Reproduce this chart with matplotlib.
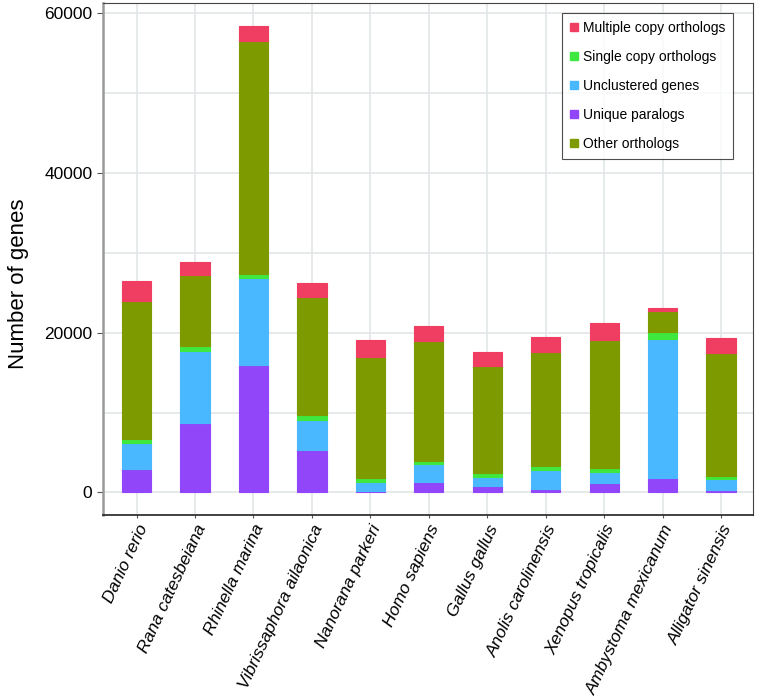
import numpy as np
import matplotlib
matplotlib.use("Agg")
import matplotlib.pyplot as plt
from matplotlib.patches import Patch
from matplotlib.ticker import MultipleLocator

plt.rcParams['font.family'] = ['Liberation Sans', 'DejaVu Sans']

# Espèces et valeurs des segments empilés (du bas vers le haut)
species = ["Danio rerio", "Rana catesbeiana", "Rhinella marina", "Vibrissaphora ailaonica",
           "Nanorana parkeri", "Homo sapiens", "Gallus gallus", "Anolis carolinensis",
           "Xenopus tropicalis", "Ambystoma mexicanum", "Alligator sinensis"]
unique_paralogs = [2900, 8670, 15960, 5330, 200, 1330, 830, 410, 1130, 1750, 290]
unclustered = [3300, 9040, 10890, 3710, 1130, 2210, 1080, 2380, 1370, 17470, 1340]
single_copy = [430, 590, 460, 630, 460, 420, 540, 500, 540, 800, 450]
other_orthologs = [17300, 8850, 29110, 14800, 15140, 14970, 13390, 14300, 15970, 2700, 15310]
multiple_copy = [2540, 1620, 1880, 1750, 2080, 1870, 1670, 1800, 2210, 380, 1880]

colors = {
    "Unique paralogs": "#9146FA",
    "Unclustered genes": "#4AB8FF",
    "Single copy orthologs": "#3FE83F",
    "Other orthologs": "#7D9A00",
    "Multiple copy orthologs": "#F03E62",
}
stack = [("Unique paralogs", unique_paralogs), ("Unclustered genes", unclustered),
         ("Single copy orthologs", single_copy), ("Other orthologs", other_orthologs),
         ("Multiple copy orthologs", multiple_copy)]
legend_order = ["Multiple copy orthologs", "Single copy orthologs", "Unclustered genes",
                "Unique paralogs", "Other orthologs"]

fig = plt.figure(figsize=(7.59, 7.00), dpi=100)
ax = fig.add_axes([0.1353, 0.264, 0.857, 0.7317])

x = np.arange(len(species))
bottom = np.zeros(len(species))
for name, vals in stack:
    col = colors[name]
    ax.bar(x, vals, width=0.5, bottom=bottom, color=col, edgecolor=col,
           linewidth=0.8, zorder=3)
    bottom += np.array(vals)

ax.set_xlim(-0.58, 10.55)
ax.set_ylim(-2840, 61200)
ax.yaxis.set_major_locator(MultipleLocator(20000))
ax.yaxis.set_minor_locator(MultipleLocator(10000))
ax.set_xticks(x)
ax.set_xticklabels(species, rotation=65, ha="right", rotation_mode="anchor",
                   fontstyle="italic", fontsize=12.5)
ax.tick_params(axis="y", labelsize=12.5, length=4, color="#555555")
ax.tick_params(axis="y", which="minor", length=0)
ax.tick_params(axis="x", length=2, color="#555555", pad=3)

ax.grid(True, which="both", color="#E1E6E6", linewidth=1.2, zorder=0)
ax.set_axisbelow(True)

ax.spines["left"].set_color("#999999")
ax.spines["left"].set_linewidth(1.8)
ax.spines["bottom"].set_color("#222222")
ax.spines["bottom"].set_linewidth(1.2)
ax.spines["top"].set_color("#444444")
ax.spines["right"].set_color("#444444")
ax.spines["top"].set_linewidth(0.8)
ax.spines["right"].set_linewidth(0.8)

ax.set_ylabel("Number of genes", fontsize=16)
ax.yaxis.set_label_coords(-0.113, 0.451)

handles = [Patch(facecolor=colors[n], edgecolor=colors[n], label=n) for n in legend_order]
leg = ax.legend(handles=handles, loc="upper right", bbox_to_anchor=(0.969, 0.980),
                fontsize=10, frameon=True, fancybox=False, edgecolor="#222222",
                handlelength=0.6, handleheight=0.6, handletextpad=0.35,
                labelspacing=1.08, borderpad=0.55, borderaxespad=0)
leg.get_frame().set_linewidth(0.8)

plt.savefig("out.png", dpi=100)
plt.close()
